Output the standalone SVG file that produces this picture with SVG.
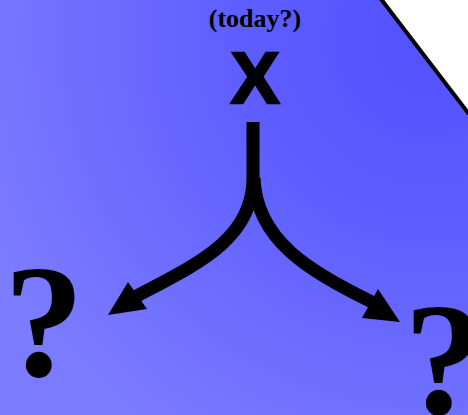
<svg xmlns="http://www.w3.org/2000/svg" width="468" height="415" viewBox="0 0 468 415">
<defs>
<radialGradient id="bg" gradientUnits="userSpaceOnUse" cx="430" cy="40" r="480">
<stop offset="0" stop-color="#5252ff"/>
<stop offset="0.35" stop-color="#5c5cff"/>
<stop offset="1" stop-color="#7b7bff"/>
</radialGradient>
<style>
.lbl{font-family:"Liberation Serif","Times New Roman",serif;font-weight:bold;fill:#000;text-anchor:middle}
.x{font-family:"Liberation Sans",Arial,sans-serif;font-weight:bold;fill:#000;stroke:#000;stroke-width:2.5;text-anchor:middle}
.conn{fill:none;stroke:#000;stroke-width:13}
.head{fill:#000}
</style>
</defs>
<rect width="468" height="415" fill="#fff"/>
<polygon points="0,0 381,0 468,113 468,415 0,415" fill="url(#bg)"/>
<line x1="381" y1="-1" x2="469" y2="114" stroke="#000" stroke-width="4"/>
<g id="today">
<text class="lbl" x="255" y="27" font-size="26">(today?)</text>
<text class="x" x="255" y="103" font-size="73">X</text>
</g>
<g id="left">
<text class="lbl" x="44" y="376" font-size="160">?</text>
</g>
<g id="right">
<text class="lbl" x="444" y="414" font-size="160">?</text>
</g>
<g id="connectors">
<path class="conn" d="M253,122 L253,178 C253,240 195,265 135,297"/>
<path class="conn" d="M254,178 C256,240 310,272 372,302"/>
<polygon class="head" points="108,315 128,282 147,309"/>
<polygon class="head" points="400,322 378,289 362,318"/>
</g>
</svg>
